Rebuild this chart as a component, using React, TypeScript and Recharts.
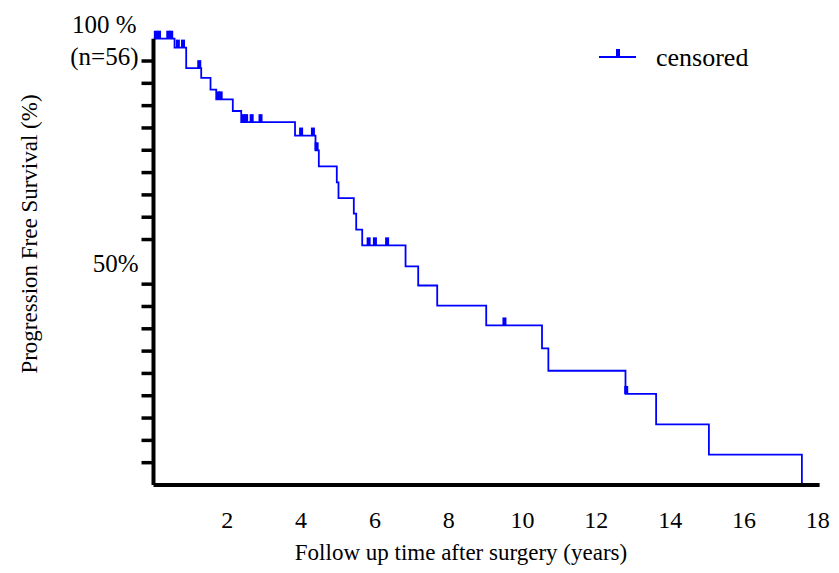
import React from 'react';
import { ComposedChart, Line, Scatter, XAxis, YAxis, Legend, Label } from 'recharts';

// Kaplan-Meier step points (time in years, survival in %)
const eventTimes = [0, 0.57, 0.886, 1.293, 1.545, 1.70, 2.149, 2.377, 3.835, 4.39, 4.48, 4.967, 5.013, 5.428, 5.493, 5.656, 6.83, 7.173, 7.688, 9.016, 10.528, 10.70, 12.79, 13.62, 15.05, 17.57];
const survivalValues = [100, 98.0, 93.4, 91.2, 88.6, 86.4, 83.8, 81.3, 78.3, 75.0, 71.4, 67.8, 64.3, 60.8, 57.2, 53.7, 49.0, 44.7, 40.2, 35.75, 30.6, 25.6, 20.4, 13.6, 6.8, 0];

// Censored observations
const censorTimes = [0.06, 0.15, 0.40, 0.48, 0.66, 0.80, 1.24, 1.75, 1.82, 2.43, 2.51, 2.66, 2.90, 4.0, 4.32, 4.42, 5.83, 6.0, 6.33, 9.51, 12.81];
const censorSurvival = [100, 100, 100, 100, 98.0, 98.0, 93.4, 86.4, 86.4, 81.3, 81.3, 81.3, 81.3, 78.3, 78.3, 75.0, 53.7, 53.7, 53.7, 35.75, 20.4];

const xTicks = [2, 4, 6, 8, 10, 12, 14, 16, 18];
const yTicks = [5, 10, 15, 20, 25, 30, 35, 40, 45, 50, 55, 60, 65, 70, 75, 80, 85, 90, 95, 100];

const xTitle = 'Follow up time after surgery (years)';
const yTitle = 'Progression Free Survival (%)';
const legendLabel = 'censored';

const curveData = eventTimes.map((t, i) => ({ t, s: survivalValues[i] }));
const censorData = censorTimes.map((t, i) => ({ t, s: censorSurvival[i] }));

const FONT = '"Liberation Serif", "Times New Roman", serif';
const BLUE = '#0000ff';

const YTick = (props: any) => {
  const { x, y, payload } = props;
  const v = payload.value;
  const style = { fontFamily: FONT, fontSize: 25, fill: '#000' };
  if (v === 100) {
    return (
      <g>
        <text x={x - 17} y={y - 6} textAnchor="end" style={style}>100 %</text>
        <text x={x - 15} y={y + 26} textAnchor="end" style={style}>(n=56)</text>
      </g>
    );
  }
  if (v === 50) {
    return (
      <text x={x - 15} y={y + 10} textAnchor="end" style={style}>50%</text>
    );
  }
  return <line x1={x - 12} x2={x} y1={y} y2={y} stroke="#000" strokeWidth={3.5} />;
};

const CensorMark = (props: any) => {
  const { cx, cy } = props;
  if (cx == null || cy == null) return null;
  return <rect x={cx - 2} y={cy - 8} width={4} height={8} fill={BLUE} />;
};

const LegendContent = () => (
  <svg width={200} height={50} style={{ display: 'block' }}>
    <line x1={9} x2={46} y1={27} y2={27} stroke={BLUE} strokeWidth={1.8} />
    <rect x={26} y={19} width={4} height={8} fill={BLUE} />
    <text x={66} y={36} style={{ fontFamily: FONT, fontSize: 26, fill: '#000' }}>{legendLabel}</text>
  </svg>
);

export default function App() {
  return (
    <div style={{ position: 'absolute', left: 0, top: 0, width: 839, height: 573, background: '#fff' }}>
      <ComposedChart
        width={839}
        height={573}
        margin={{ top: 38.7, right: 19.4, bottom: 0, left: 0 }}
      >
        <XAxis
          dataKey="t"
          type="number"
          domain={[0, 18.05]}
          ticks={xTicks}
          allowDataOverflow
          height={88}
          tickLine={false}
          tickSize={0}
          tickMargin={26}
          axisLine={{ stroke: '#000', strokeWidth: 4 }}
          tick={{ fontFamily: FONT, fontSize: 24, fill: '#000' }}
          interval={0}
        >
          <Label
            content={() => (
              <text x={461} y={560} textAnchor="middle" style={{ fontFamily: FONT, fontSize: 23, fill: '#000' }}>
                {xTitle}
              </text>
            )}
          />
        </XAxis>
        <YAxis
          type="number"
          domain={[0, 100]}
          ticks={yTicks}
          width={153.5}
          tickLine={false}
          tickSize={0}
          tickMargin={0}
          axisLine={{ stroke: '#000', strokeWidth: 4 }}
          tick={<YTick />}
          interval={0}
        >
          <Label
            content={() => (
              <text
                x={0}
                y={0}
                transform="translate(37, 234) rotate(-90)"
                textAnchor="middle"
                style={{ fontFamily: FONT, fontSize: 23, fill: '#000' }}
              >
                {yTitle}
              </text>
            )}
          />
        </YAxis>
        <Legend
          layout="horizontal"
          verticalAlign="middle"
          align="center"
          wrapperStyle={{ left: 590, top: 30, width: 200, height: 50 }}
          content={() => <LegendContent />}
        />
        <Line
          data={curveData}
          dataKey="s"
          type="stepAfter"
          stroke={BLUE}
          strokeWidth={1.8}
          dot={false}
          activeDot={false}
          isAnimationActive={false}
          legendType="none"
        />
        <Scatter
          data={censorData}
          dataKey="s"
          shape={<CensorMark />}
          isAnimationActive={false}
          legendType="none"
        />
      </ComposedChart>
    </div>
  );
}
